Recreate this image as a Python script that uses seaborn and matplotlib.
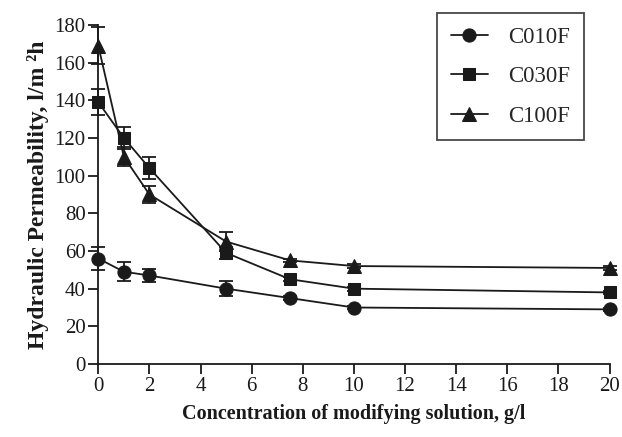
import matplotlib
matplotlib.use("Agg")
import matplotlib.pyplot as plt
import seaborn as sns

# concentration, g/l
conc = [0, 1, 2, 5, 7.5, 10, 20]

# hydraulic permeability, l/m2h
c010f = [56, 49, 47, 40, 35, 30, 29]
c030f = [139, 120, 104, 59, 45, 40, 38]
c100f = [169, 110, 90, 65, 55, 52, 51]

# error bars (+/-)
c010f_err = [6, 5, 3.5, 4, 1, 1, 1]
c030f_err = [7, 6, 6, 3, 1, 1, 1]
c100f_err = [10, 5, 4.5, 5, 1, 1, 1]

names = ["C010F", "C030F", "C100F"]
markers = ["o", "s", "^"]

sns.set_theme(style="ticks")
plt.rcParams["font.family"] = ["Liberation Serif", "DejaVu Serif"]

fig = plt.figure(figsize=(6.22, 4.37), dpi=100)
ax = fig.add_axes([0.158, 0.167, 0.822, 0.776])

for name, vals, errs, mk in zip(names, [c010f, c030f, c100f],
                                [c010f_err, c030f_err, c100f_err], markers):
    ax.errorbar(conc, vals, yerr=errs, fmt="none", ecolor="#1a1a1a",
                elinewidth=1.3, capsize=5, capthick=1.3, clip_on=False, zorder=2)
    sns.lineplot(x=conc, y=vals, ax=ax, color="#1a1a1a", linewidth=1.3,
                 marker=mk, markersize=9.5 if mk != "s" else 9,
                 markeredgecolor="#1a1a1a", markerfacecolor="#1a1a1a",
                 label=name, clip_on=False, zorder=3)

ax.set_xlim(0, 20)
ax.set_ylim(0, 180)
ax.set_xticks(range(0, 21, 2))
ax.set_yticks(range(0, 181, 20))
ax.tick_params(axis="both", direction="out", length=7, width=1.3,
               labelsize=15, colors="#1a1a1a", pad=2)
sns.despine(ax=ax)
for s in ["left", "bottom"]:
    ax.spines[s].set_linewidth(1.3)
    ax.spines[s].set_color("#1a1a1a")

ax.set_xlabel("Concentration of modifying solution, g/l", fontsize=14.5,
              fontweight="bold", color="#1a1a1a", labelpad=6)
ax.set_ylabel("Hydraulic Permeability, l/m \u00b2h", fontsize=17,
              fontweight="bold", color="#1a1a1a", labelpad=4)

leg = ax.legend(loc="upper right", bbox_to_anchor=(0.95, 1.035), fontsize=16.5,
                frameon=True, fancybox=False, edgecolor="#1a1a1a",
                handlelength=1.6, handletextpad=0.9, borderpad=0.6,
                labelspacing=0.8, borderaxespad=0)
leg.get_frame().set_linewidth(1.3)

fig.savefig("out.png", dpi=100)
